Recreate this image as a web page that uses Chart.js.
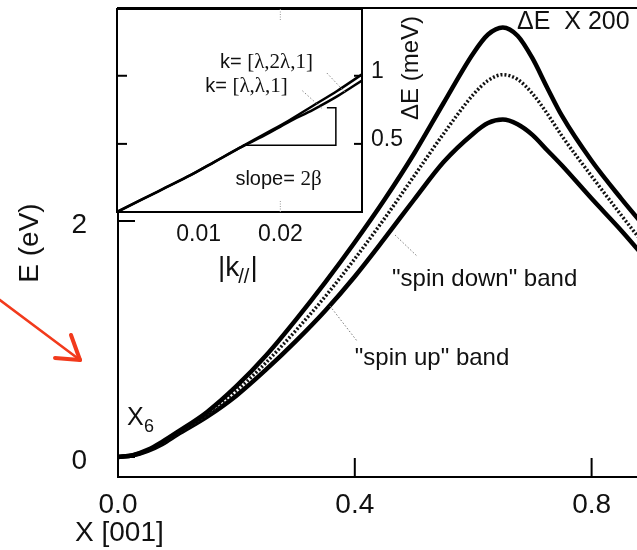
<!DOCTYPE html>
<html>
<head>
<meta charset="utf-8">
<script src="https://cdn.jsdelivr.net/npm/chart.js@4.4.0/dist/chart.umd.min.js"></script>
<style>
  html, body { margin: 0; padding: 0; background: #fff; overflow: hidden; }
  #wrap { position: relative; width: 637px; height: 550px; overflow: hidden; background: #fff; }
  #mainChart, #insetChart { position: absolute; left: 0; top: 0; }
</style>
</head>
<body>
<div id="wrap">
  <canvas id="mainChart" width="720" height="550"></canvas>
  <canvas id="insetChart" width="440" height="300"></canvas>
</div>
<script>
const SANS = '"Liberation Sans", Arial, Helvetica, sans-serif';
const SERIF = '"Liberation Serif", "Times New Roman", serif';
const INK = '#111';

// main panel: bands along X [001]
const bandX     = [0, 0.025, 0.05, 0.075, 0.1, 0.15, 0.2, 0.25, 0.3, 0.35, 0.4, 0.45, 0.5, 0.55, 0.6, 0.625, 0.65, 0.675, 0.7, 0.725, 0.75, 0.8, 0.85, 0.9];
const upperBand = [0, 0.015, 0.06, 0.13, 0.21, 0.38, 0.60, 0.86, 1.16, 1.48, 1.82, 2.18, 2.57, 3.00, 3.42, 3.58, 3.64, 3.57, 3.38, 3.13, 2.89, 2.51, 2.19, 1.89];
const midBand   = [0, 0.015, 0.055, 0.12, 0.20, 0.36, 0.56, 0.80, 1.07, 1.36, 1.68, 2.02, 2.38, 2.74, 3.07, 3.19, 3.24, 3.20, 3.08, 2.91, 2.72, 2.38, 2.05, 1.73];
const lowerBand = [0, 0.014, 0.052, 0.11, 0.19, 0.34, 0.52, 0.74, 0.98, 1.24, 1.53, 1.85, 2.18, 2.50, 2.74, 2.83, 2.86, 2.82, 2.73, 2.60, 2.47, 2.19, 1.92, 1.63];
const mainXTicks = [0, 0.4, 0.8];
const mainYTicks = [0, 2];

// inset: splitting against |k//|
const kVals     = [0, 0.003, 0.006, 0.009, 0.012, 0.015, 0.018, 0.021, 0.024, 0.027, 0.03];
const splitDiag = [0, 0.09, 0.18, 0.27, 0.37, 0.47, 0.57, 0.67, 0.78, 0.89, 1.01];
const splitEdge = [0, 0.09, 0.18, 0.27, 0.37, 0.47, 0.56, 0.66, 0.75, 0.85, 0.965];
const slopeK = [0.0154, 0.0268, 0.0268, 0.0257];
const slopeE = [0.49, 0.49, 0.765, 0.765];
const insetXTicks = [0.01, 0.02];
const insetYTicks = [0.5, 1];

function pts(xs, ys) { return xs.map((x, i) => ({ x: x, y: ys[i] })); }

function seg(ctx, x1, y1, x2, y2) {
  ctx.beginPath(); ctx.moveTo(x1, y1); ctx.lineTo(x2, y2); ctx.stroke();
}

function dataSeg(ctx, sx, sy, p, q) {
  seg(ctx, sx.getPixelForValue(p[0]), sy.getPixelForValue(p[1]), sx.getPixelForValue(q[0]), sy.getPixelForValue(q[1]));
}

// keep the label overhang from pushing the plot area around
function noOverhang(s) {
  s.paddingTop = 0;
  s.paddingBottom = 0;
}

const mainDecor = {
  id: 'mainDecor',
  afterDraw(chart) {
    const { ctx, chartArea: a } = chart;
    const sx = chart.scales.x, sy = chart.scales.y;
    ctx.save();
    ctx.strokeStyle = '#000';
    ctx.lineWidth = 2;
    seg(ctx, a.left, a.top, a.right, a.top);
    mainXTicks.slice(1).forEach(v => {
      const px = sx.getPixelForValue(v);
      seg(ctx, px, a.bottom, px, a.bottom - 19);
    });
    mainYTicks.forEach(v => {
      const py = sy.getPixelForValue(v);
      seg(ctx, a.left, py, a.left + 17, py);
    });

    // leader lines to the bands
    ctx.strokeStyle = '#777';
    ctx.lineWidth = 1;
    ctx.setLineDash([1.5, 2]);
    dataSeg(ctx, sx, sy, [0.468, 1.881], [0.505, 1.703]);
    dataSeg(ctx, sx, sy, [0.358, 1.280], [0.405, 0.975]);
    ctx.setLineDash([]);

    ctx.fillStyle = INK;
    ctx.textBaseline = 'middle';
    ctx.textAlign = 'left';
    ctx.font = '25px ' + SANS;
    ctx.fillText('ΔE  X 200', sx.getPixelForValue(0.674), sy.getPixelForValue(3.686));
    ctx.font = '24px ' + SANS;
    ctx.fillText('"spin down" band', sx.getPixelForValue(0.463), sy.getPixelForValue(1.508));
    ctx.fillText('"spin up" band', sx.getPixelForValue(0.400), sy.getPixelForValue(0.839));

    // X6 point label
    const lx = sx.getPixelForValue(0.015), ly = sy.getPixelForValue(0.33);
    ctx.font = '25px ' + SANS;
    ctx.fillText('X', lx, ly);
    ctx.font = '18px ' + SANS;
    ctx.fillText('6', lx + ctx.measureText('X').width + 5, ly + 9);

    // axis titles
    ctx.font = '28px ' + SANS;
    ctx.fillText('X [001]', a.left - 43, a.bottom + 56);
    ctx.save();
    ctx.translate(30, 243);
    ctx.rotate(-Math.PI / 2);
    ctx.textAlign = 'center';
    ctx.fillText('E (eV)', 0, 0);
    ctx.restore();

    // red pointer arrow
    ctx.strokeStyle = '#f23a1c';
    ctx.lineCap = 'round';
    ctx.lineWidth = 2.5;
    const tip = [-0.0642, 0.822];
    dataSeg(ctx, sx, sy, [-0.21, 1.37], tip);
    ctx.lineWidth = 4;
    dataSeg(ctx, sx, sy, [-0.0794, 1.034], tip);
    dataSeg(ctx, sx, sy, [-0.1064, 0.839], tip);
    ctx.restore();
  }
};

const insetDecor = {
  id: 'insetDecor',
  beforeDraw(chart) {
    const { ctx, chartArea: a } = chart;
    ctx.save();
    ctx.fillStyle = '#fff';
    ctx.fillRect(a.left, a.top, a.right - a.left, a.bottom - a.top);
    ctx.restore();
  },
  afterDraw(chart) {
    const { ctx, chartArea: a } = chart;
    const sx = chart.scales.x, sy = chart.scales.y;
    ctx.save();
    ctx.strokeStyle = '#000';
    ctx.lineWidth = 2;
    ctx.strokeRect(a.left, a.top, a.right - a.left, a.bottom - a.top);
    insetYTicks.forEach(v => {
      const py = sy.getPixelForValue(v);
      seg(ctx, a.left, py, a.left + 10, py);
      seg(ctx, a.right, py, a.right - 8, py);
    });
    ctx.strokeStyle = '#999';
    ctx.lineWidth = 1;
    ctx.setLineDash([1, 1.5]);
    const t = sx.getPixelForValue(0.02);
    seg(ctx, t, a.bottom, t, a.bottom - 11);
    seg(ctx, t, a.top, t, a.top + 11);

    // leaders from the k-direction labels
    ctx.setLineDash([1.5, 2]);
    ctx.strokeStyle = '#888';
    dataSeg(ctx, sx, sy, [0.0257, 1.02], [0.0279, 0.88]);
    dataSeg(ctx, sx, sy, [0.0227, 0.89], [0.0251, 0.76]);
    ctx.setLineDash([]);

    ctx.fillStyle = INK;
    ctx.textBaseline = 'middle';
    ctx.textAlign = 'left';
    const mixed = (k, y, rest) => {
      let px = sx.getPixelForValue(k);
      const py = sy.getPixelForValue(y);
      ctx.font = '20px ' + SANS;
      ctx.fillText('k= ', px, py);
      px += ctx.measureText('k= ').width;
      ctx.font = '21px ' + SERIF;
      ctx.fillText(rest, px, py);
    };
    mixed(0.0126, 1.096, '[λ,2λ,1]');
    mixed(0.0108, 0.919, '[λ,λ,1]');

    let sxp = sx.getPixelForValue(0.0145);
    const syp = sy.getPixelForValue(0.235);
    ctx.font = '20px ' + SANS;
    ctx.fillText('slope= ', sxp, syp);
    sxp += ctx.measureText('slope= ').width;
    ctx.font = '21px ' + SERIF;
    ctx.fillText('2β', sxp, syp);

    // |k//| axis title
    let kx = 218;
    const ky = a.bottom + 56;
    ctx.font = '28px ' + SANS;
    ctx.fillText('|k', kx, ky);
    kx += ctx.measureText('|k').width;
    ctx.font = '20px ' + SANS;
    ctx.fillText('//', kx - 1, ky + 9);
    kx += ctx.measureText('//').width;
    ctx.font = '28px ' + SANS;
    ctx.fillText('|', kx, ky);

    // ΔE (meV) title, reading upward
    ctx.save();
    ctx.translate(a.right + 49, a.top + 59);
    ctx.rotate(-Math.PI / 2);
    ctx.textAlign = 'center';
    ctx.font = '24px ' + SANS;
    ctx.fillText('ΔE (meV)', 0, 0);
    ctx.restore();
    ctx.restore();
  }
};

const mainChart = new Chart(document.getElementById('mainChart').getContext('2d'), {
  type: 'line',
  data: {
    datasets: [
      { data: pts(bandX, upperBand), borderColor: '#000', borderWidth: 4.5 },
      { data: pts(bandX, midBand), borderColor: '#111', borderWidth: 3.5, borderDash: [2, 2] },
      { data: pts(bandX, lowerBand), borderColor: '#000', borderWidth: 4.5 }
    ]
  },
  options: {
    responsive: false,
    animation: false,
    devicePixelRatio: 1,
    layout: { padding: { left: 0, right: 10, top: 8, bottom: 0 } },
    elements: { point: { radius: 0 }, line: { cubicInterpolationMode: 'monotone', fill: false } },
    plugins: { legend: { display: false }, tooltip: { enabled: false } },
    scales: {
      x: {
        type: 'linear', min: 0, max: 1.0,
        afterBuildTicks: s => { s.ticks = mainXTicks.map(v => ({ value: v })); },
        afterFit: s => { s.height = 73; },
        grid: { display: false, drawTicks: false },
        border: { display: true, color: '#000', width: 2 },
        ticks: { padding: 11, color: INK, font: { family: SANS, size: 28 }, maxRotation: 0,
                 callback: v => v.toFixed(1) }
      },
      y: {
        type: 'linear', min: -0.1695, max: 3.805,
        afterBuildTicks: s => { s.ticks = mainYTicks.map(v => ({ value: v })); },
        afterFit: s => { s.width = 118; noOverhang(s); },
        grid: { display: false, drawTicks: false },
        border: { display: true, color: '#000', width: 2 },
        ticks: { padding: 31, labelOffset: 4, color: INK, font: { family: SANS, size: 28 },
                 callback: v => String(v) }
      }
    }
  },
  plugins: [mainDecor]
});

const insetChart = new Chart(document.getElementById('insetChart').getContext('2d'), {
  type: 'line',
  data: {
    datasets: [
      { data: pts(kVals, splitDiag), borderColor: '#000', borderWidth: 2.5 },
      { data: pts(kVals, splitEdge), borderColor: '#000', borderWidth: 2.5 },
      { data: pts(slopeK, slopeE), borderColor: '#000', borderWidth: 1.5, cubicInterpolationMode: 'default', tension: 0 }
    ]
  },
  options: {
    responsive: false,
    animation: false,
    devicePixelRatio: 1,
    layout: { padding: { left: 117, right: 0, top: 9, bottom: 0 } },
    elements: { point: { radius: 0 }, line: { cubicInterpolationMode: 'monotone', fill: false } },
    plugins: { legend: { display: false }, tooltip: { enabled: false } },
    scales: {
      x: {
        type: 'linear', min: 0, max: 0.03,
        afterBuildTicks: s => { s.ticks = insetXTicks.map(v => ({ value: v })); },
        afterFit: s => { s.height = 88; },
        grid: { display: false, drawTicks: false },
        border: { display: false },
        ticks: { padding: 9, color: INK, font: { family: SANS, size: 23 }, maxRotation: 0,
                 callback: v => v.toFixed(2) }
      },
      y: {
        type: 'linear', position: 'right', min: 0, max: 1.49,
        afterBuildTicks: s => { s.ticks = insetYTicks.map(v => ({ value: v })); },
        afterFit: s => { s.width = 78; noOverhang(s); },
        grid: { display: false, drawTicks: false },
        border: { display: false },
        ticks: { padding: 9, labelOffset: -4, color: INK, font: { family: SANS, size: 23 },
                 callback: v => String(v) }
      }
    }
  },
  plugins: [insetDecor]
});
</script>
</body>
</html>
